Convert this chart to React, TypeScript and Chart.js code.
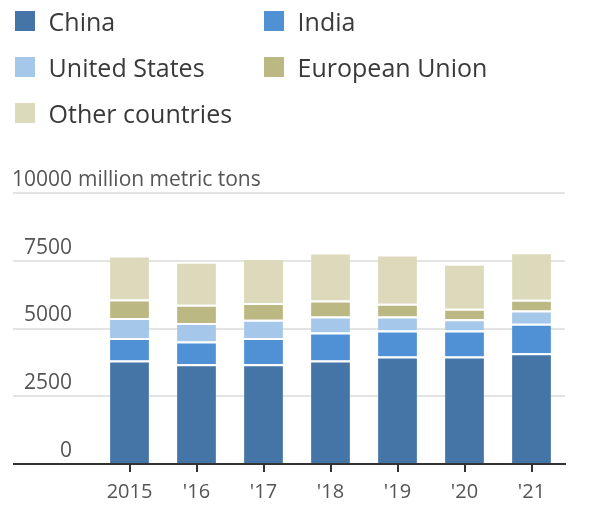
import React, { useEffect, useRef } from "react";
import { Chart, registerables } from "chart.js";

Chart.register(...registerables);

// ---- Data ----
const years = ["2015", "'16", "'17", "'18", "'19", "'20", "'21"];
const china = [3820, 3685, 3685, 3815, 3965, 3965, 4090];
const india = [830, 835, 960, 1035, 960, 960, 1085];
const unitedStates = [740, 680, 675, 590, 515, 420, 490];
const europeanUnion = [680, 675, 620, 590, 470, 380, 395];
const otherCountries = [1625, 1590, 1660, 1775, 1820, 1665, 1750];
const yTickValues = [0, 2500, 5000, 7500, 10000];
const yUnit = "million metric tons";
const seriesNames = ["China", "India", "United States", "European Union", "Other countries"];
const seriesColors = ["#4574a6", "#5091d5", "#a5c7e9", "#bcb884", "#dcdabb"];

const FONT = '"Open Sans", "Noto Sans", sans-serif';
const AXIS_TEXT = "#555555";
const Y_LABEL_OFFSET = -13;
const Y_FONT_SIZE = 21;
const Y_AXIS_WIDTH = 83;
const Y_LABEL_INSET = 24;

const unitPlugin = {
  id: "unitLabel",
  afterDraw(chart: any) {
    const y = chart.scales.y;
    const ctx = chart.ctx;
    const top = yTickValues[yTickValues.length - 1];
    const py = y.getPixelForValue(top) + Y_LABEL_OFFSET;
    ctx.save();
    ctx.font = `${Y_FONT_SIZE}px ${FONT}`;
    ctx.fillStyle = AXIS_TEXT;
    ctx.textAlign = "left";
    ctx.textBaseline = "middle";
    ctx.fillText(yUnit, y.right - Y_LABEL_INSET + 6, py);
    ctx.restore();
  },
};

export default function App() {
  const canvasRef = useRef<HTMLCanvasElement | null>(null);

  useEffect(() => {
    document.body.style.margin = "0";
    const canvas = canvasRef.current;
    if (!canvas) return;
    const seriesData = [china, india, unitedStates, europeanUnion, otherCountries];
    const chart = new Chart(canvas, {
      type: "bar",
      data: {
        labels: years,
        datasets: seriesNames.map((name, i) => ({
          label: name,
          data: seriesData[i],
          backgroundColor: seriesColors[i],
          borderColor: "#ffffff",
          borderWidth: { top: 2, left: 0, right: 0, bottom: 0 },
          borderSkipped: false,
          barPercentage: 0.58,
          categoryPercentage: 1,
        })),
      },
      options: {
        animation: false,
        responsive: false,
        layout: { padding: { left: 13, right: 35, top: 193, bottom: 5 } },
        plugins: {
          legend: { display: false },
          tooltip: { enabled: false },
        },
        scales: {
          x: {
            stacked: true,
            offset: true,
            grid: {
              display: true,
              drawOnChartArea: false,
              drawTicks: true,
              tickLength: 8,
              color: "#333333",
              lineWidth: 2,
              offset: false,
            },
            border: { display: true, color: "#333333", width: 2 },
            ticks: {
              color: AXIS_TEXT,
              font: { family: FONT, size: 20 },
              padding: 8,
              maxRotation: 0,
              autoSkip: false,
            },
          },
          y: {
            stacked: true,
            min: 0,
            max: 10000,
            afterBuildTicks: (scale: any) => {
              scale.ticks = yTickValues.map((v) => ({ value: v }));
            },
            afterFit: (scale: any) => {
              scale.width = Y_AXIS_WIDTH;
            },
            grid: {
              drawTicks: true,
              tickLength: Y_AXIS_WIDTH,
              color: (ctx: any) =>
                ctx.tick && ctx.tick.value === 0 ? "#333333" : "#e4e4e4",
              lineWidth: 2,
            },
            border: { display: false },
            ticks: {
              padding: Y_LABEL_INSET - Y_AXIS_WIDTH,
              labelOffset: Y_LABEL_OFFSET,
              color: AXIS_TEXT,
              font: { family: FONT, size: Y_FONT_SIZE },
              callback: (v: any) => String(v),
            },
          },
        },
      },
      plugins: [unitPlugin],
    });
    return () => chart.destroy();
  }, []);

  return (
    <div style={{ position: "relative", width: 600, height: 517, fontFamily: FONT, background: "#fff" }}>
      <canvas ref={canvasRef} width={600} height={517} style={{ position: "absolute", left: 0, top: 0 }} />
      {seriesNames.map((name, i) => (
        <div
          key={name}
          style={{
            position: "absolute",
            left: 15 + (i % 2) * 249,
            top: 11 + Math.floor(i / 2) * 46,
            display: "flex",
            alignItems: "center",
            height: 20,
          }}
        >
          <span style={{ display: "inline-block", width: 20, height: 20, background: seriesColors[i], marginRight: 13.6 }} />
          <span style={{ fontSize: 25, color: "#3a3a3a", lineHeight: "20px", whiteSpace: "nowrap" }}>{name}</span>
        </div>
      ))}
    </div>
  );
}
